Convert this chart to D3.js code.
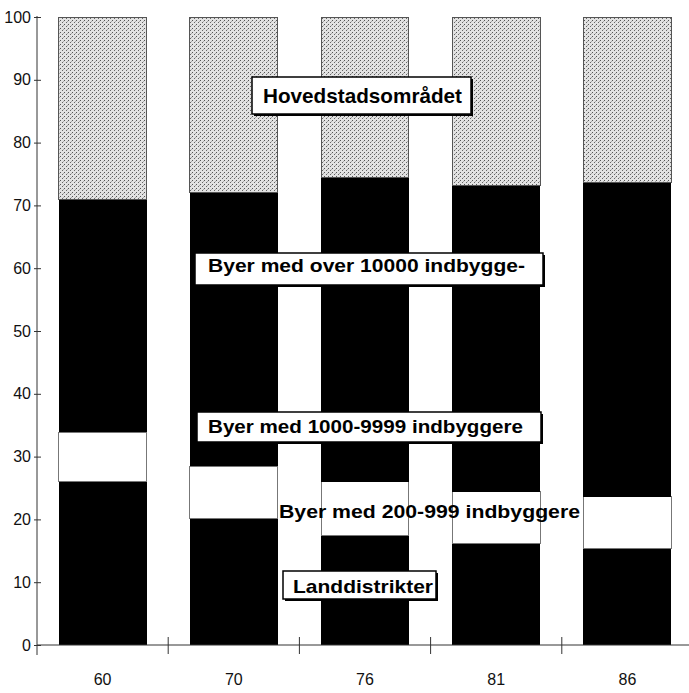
<!DOCTYPE html>
<html>
<head>
<meta charset="utf-8">
<script src="https://cdn.jsdelivr.net/npm/d3@7"></script>
<style>
  body { margin: 0; background: #fff; }
  svg { display: block; font-family: "Liberation Sans", Arial, sans-serif; }
</style>
</head>
<body>
<svg id="chart" width="689" height="693"></svg>
<script>
// Years along the x axis.
const years = ['60', '70', '76', '81', '86'];

// Share of population (%) per settlement type.
const landdistrikter = [26.1, 20.2, 17.5, 16.1, 15.4];
const byer200 = [7.8, 8.3, 8.5, 8.3, 8.2];
const byer1000 = [14, 16, 17, 17, 17];
const byer10000 = [23, 27.6, 31.5, 31.7, 33];
const hovedstad = [29.1, 27.9, 25.5, 26.9, 26.4];

const seriesKeys = ['land', 'b200', 'b1000', 'b10000', 'hoved'];
const yTicks = [0, 10, 20, 30, 40, 50, 60, 70, 80, 90, 100];

// Label texts, bottom to top.
const labelTexts = ['Landdistrikter', 'Byer med 200-999 indbyggere',
  'Byer med 1000-9999 indbyggere', 'Byer med over 10000 indbygge-', 'Hovedstadsområdet'];

const rows = years.map((yr, i) => ({
  year: yr,
  land: landdistrikter[i],
  b200: byer200[i],
  b1000: byer1000[i],
  b10000: byer10000[i],
  hoved: hovedstad[i]
}));

const svg = d3.select('#chart');

// dotted grey fill for the capital area
const defs = svg.append('defs');
const pat = defs.append('pattern')
  .attr('id', 'dots')
  .attr('width', 4).attr('height', 4)
  .attr('patternUnits', 'userSpaceOnUse');
pat.append('rect').attr('width', 4).attr('height', 4).attr('fill', '#e2e2e2');
pat.append('rect').attr('x', 0).attr('y', 0).attr('width', 1).attr('height', 1).attr('fill', '#555');
pat.append('rect').attr('x', 2).attr('y', 2).attr('width', 1).attr('height', 1).attr('fill', '#666');
pat.append('rect').attr('x', 3).attr('y', 1).attr('width', 1).attr('height', 1).attr('fill', '#aaa');

const fills = {
  land: '#000',
  b200: '#fff',
  b1000: '#000',
  b10000: '#000',
  hoved: 'url(#dots)'
};
const strokes = {
  land: 'none',
  b200: '#777',
  b1000: 'none',
  b10000: 'none',
  hoved: '#555'
};

const x = d3.scaleBand()
  .domain(years)
  .range([37, 693])
  .paddingInner(0.33)
  .paddingOuter(0.165);

const y = d3.scaleLinear()
  .domain([0, 100])
  .range([645, 17]);

const stack = d3.stack().keys(seriesKeys);
const stacked = stack(rows);

// bars
svg.append('g')
  .attr('shape-rendering', 'crispEdges')
  .selectAll('g')
  .data(stacked)
  .join('g')
  .attr('fill', d => fills[d.key])
  .attr('stroke', d => strokes[d.key])
  .selectAll('rect')
  .data(d => d)
  .join('rect')
  .attr('x', d => x(d.data.year))
  .attr('y', d => y(d[1]))
  .attr('width', x.bandwidth())
  .attr('height', d => y(d[0]) - y(d[1]))
  .attr('stroke-width', 1);

// y axis
const yAxis = svg.append('g')
  .attr('transform', 'translate(37,0)')
  .call(d3.axisLeft(y).tickValues(yTicks).tickSizeInner(3).tickSizeOuter(0).tickPadding(3));
yAxis.select('.domain').attr('d', 'M0,16V655').attr('stroke', '#333');
yAxis.selectAll('.tick line').attr('x1', 4).attr('stroke', '#333');
yAxis.selectAll('.tick text')
  .attr('font-size', 16)
  .attr('fill', '#111')
  .attr('font-family', '"Liberation Sans", Arial, sans-serif');

// x axis: labels at band centres, ticks between bands
const xAxis = svg.append('g')
  .attr('transform', 'translate(0,645)')
  .call(d3.axisBottom(x).tickSize(0).tickPadding(29));
xAxis.select('.domain').attr('d', 'M37,0H689').attr('stroke', '#333');
xAxis.selectAll('.tick text')
  .attr('font-size', 16)
  .attr('fill', '#111')
  .attr('font-family', '"Liberation Sans", Arial, sans-serif');

const gap = x.step() - x.bandwidth();
xAxis.selectAll('.sep')
  .data(years.slice(0, -1))
  .join('line')
  .attr('class', 'sep')
  .attr('x1', d => x(d) + x.bandwidth() + gap / 2)
  .attr('x2', d => x(d) + x.bandwidth() + gap / 2)
  .attr('y1', -8)
  .attr('y2', 9)
  .attr('stroke', '#333');

// labels (box rect, text start, baseline, text width, font size, boxed?)
const labelBoxes = [
  {box: [283, 571, 153, 28], tx: 293, ty: 593, tw: 140, fs: 19, boxed: true},
  {box: null, tx: 279, ty: 518, tw: 301, fs: 19, boxed: false},
  {box: [197, 412, 344, 30], tx: 208, ty: 433, tw: 315, fs: 18, boxed: true},
  {box: [195, 253, 348, 32], tx: 208, ty: 272, tw: 317, fs: 18, boxed: true},
  {box: [252, 77, 219, 37], tx: 263, ty: 103, tw: 199, fs: 21, boxed: true}
];

const labels = svg.append('g');
labelTexts.forEach((t, i) => {
  const L = labelBoxes[i];
  if (L.boxed) {
    const [bx, by, bw, bh] = L.box;
    labels.append('rect')
      .attr('x', bx + 2).attr('y', by + 2)
      .attr('width', bw).attr('height', bh)
      .attr('fill', '#000');
    labels.append('rect')
      .attr('x', bx).attr('y', by)
      .attr('width', bw).attr('height', bh)
      .attr('fill', '#fff')
      .attr('stroke', '#000')
      .attr('stroke-width', 1.5);
  }
  labels.append('text')
    .attr('x', L.tx)
    .attr('y', L.ty)
    .attr('font-size', L.fs)
    .attr('font-weight', 'bold')
    .attr('fill', '#000')
    .attr('textLength', L.tw)
    .attr('lengthAdjust', 'spacingAndGlyphs')
    .text(t);
});
</script>
</body>
</html>
